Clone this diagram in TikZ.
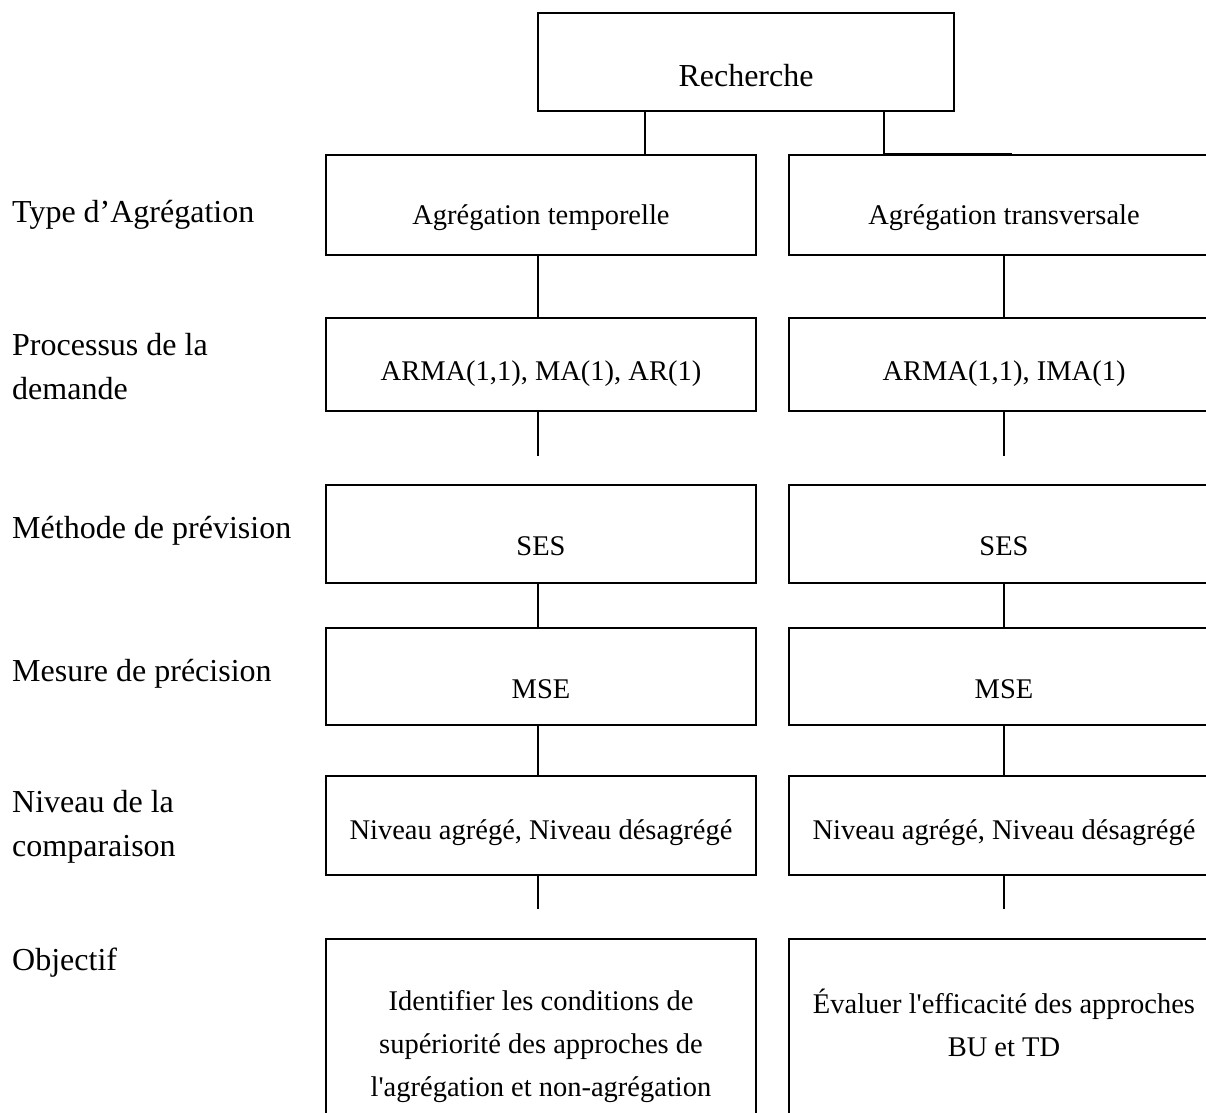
\documentclass[tikz,border=0pt]{standalone}
\usepackage{fontspec}
\setmainfont{Liberation Serif}
\newcommand{\sq}{\textquotesingle}
\begin{document}
\begin{tikzpicture}[x=1pt,y=-1pt,
  boxshape/.style={draw, line width=1.6pt, inner sep=0pt, minimum width=430pt},
  boxtext/.style={inner sep=0pt, font=\fontsize{28.5}{43}\selectfont, align=center},
  lbl/.style={anchor=west, inner sep=0pt, font=\fontsize{32}{44}\selectfont, align=left},
  conn/.style={line width=1.6pt}]
\useasboundingbox (0,0) rectangle (1206,1112);
\clip (0,0) rectangle (1206,1112);

% top box
\node[boxshape, minimum width=416pt, minimum height=98pt] (rech) at (746,62) {};
\node[inner sep=0pt, font=\fontsize{32}{40}\selectfont] (rechT) at (746,76) {Recherche};

% left labels
\node[lbl] (l1) at (12,215) {Type d’Agrégation};
\node[lbl] (l2) at (12,367) {Processus de la\\demande};
\node[lbl] (l3) at (12,531) {Méthode de prévision};
\node[lbl] (l4) at (12,674) {Mesure de précision};
\node[lbl] (l5) at (12,826.5) {Niveau de la\\comparaison};
\node[lbl] (l6) at (12,963) {Objectif};

% left column boxes
\node[boxshape, minimum height=100pt] (a1) at (541,205) {};
\node[boxshape, minimum height=93pt] (a2) at (541,364.5) {};
\node[boxshape, minimum height=98pt] (a3) at (541,534) {};
\node[boxshape, minimum height=97pt] (a4) at (541,676.5) {};
\node[boxshape, minimum height=99pt] (a5) at (541,825.5) {};
\node[boxshape, minimum height=220pt] (a6) at (541,1049) {};

% right column boxes
\node[boxshape, minimum height=100pt] (b1) at (1004,205) {};
\node[boxshape, minimum height=93pt] (b2) at (1004,364.5) {};
\node[boxshape, minimum height=98pt] (b3) at (1004,534) {};
\node[boxshape, minimum height=97pt] (b4) at (1004,676.5) {};
\node[boxshape, minimum height=99pt] (b5) at (1004,825.5) {};
\node[boxshape, minimum height=220pt] (b6) at (1004,1049) {};

% box texts
\node[boxtext] (a1t) at (541,217.5) {Agrégation temporelle};
\node[boxtext] (a2t) at (541,374) {ARMA(1,1), MA(1), AR(1)};
\node[boxtext] (a3t) at (541,546) {SES};
\node[boxtext] (a4t) at (541,689) {MSE};
\node[boxtext] (a5t) at (541,833) {Niveau agrégé, Niveau désagrégé};
\node[boxtext] (a6t) at (541,1047) {Identifier les conditions de\\supériorité des approches de\\l\sq agrégation et non-agrégation};

\node[boxtext] (b1t) at (1004,217.5) {Agrégation transversale};
\node[boxtext] (b2t) at (1004,374) {ARMA(1,1), IMA(1)};
\node[boxtext] (b3t) at (1004,546) {SES};
\node[boxtext] (b4t) at (1004,689) {MSE};
\node[boxtext] (b5t) at (1004,833) {Niveau agrégé, Niveau désagrégé};
\node[boxtext] (b6t) at (1004,1023) {Évaluer l\sq efficacité des approches\\BU et TD};

% free ends
\coordinate (ra) at (884,154);
\coordinate (rb) at (1012,154);
\coordinate (la) at (645,154);
\coordinate (ea2) at (538,456);
\coordinate (eb2) at (1004,456);
\coordinate (ea5) at (538,909);
\coordinate (eb5) at (1004,909);

% connectors from top
\draw[conn] (rech.south -| la) -- (la);
\draw[conn] (rech.south -| ra) -- (ra) -- (rb);

% left column connectors
\draw[conn] ([xshift=-3pt]a1.south) -- ([xshift=-3pt]a2.north);
\draw[conn] ([xshift=-3pt]a2.south) -- (ea2);
\draw[conn] ([xshift=-3pt]a3.south) -- ([xshift=-3pt]a4.north);
\draw[conn] ([xshift=-3pt]a4.south) -- ([xshift=-3pt]a5.north);
\draw[conn] ([xshift=-3pt]a5.south) -- (ea5);

% right column connectors
\draw[conn] (b1.south) -- (b2.north);
\draw[conn] (b2.south) -- (eb2);
\draw[conn] (b3.south) -- (b4.north);
\draw[conn] (b4.south) -- (b5.north);
\draw[conn] (b5.south) -- (eb5);
\end{tikzpicture}
\end{document}
